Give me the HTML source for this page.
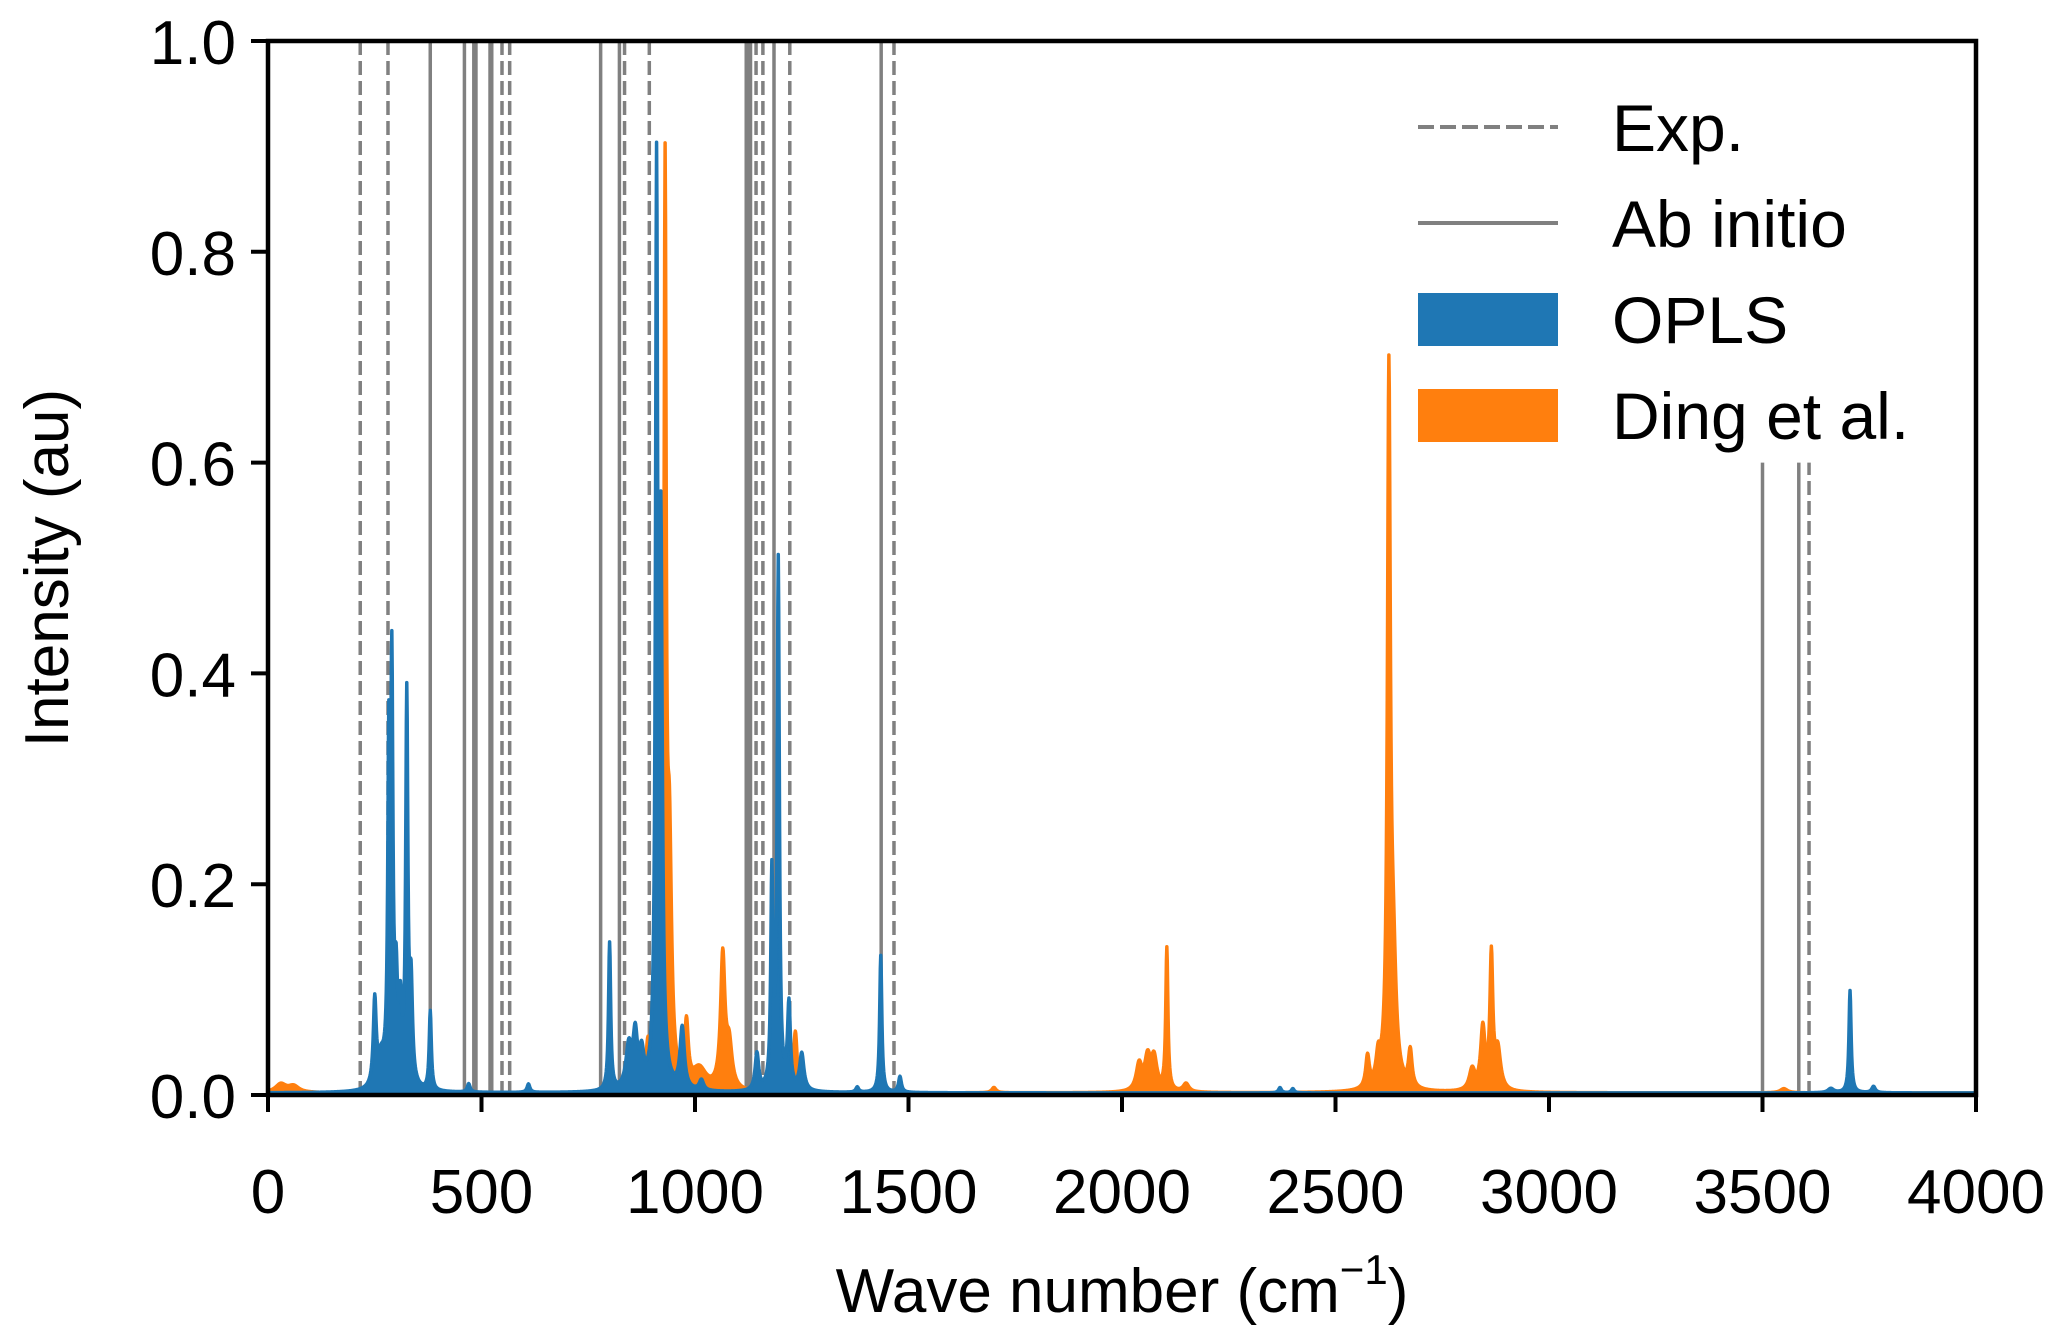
<!DOCTYPE html>
<html><head><meta charset="utf-8"><style>
html,body{margin:0;padding:0;background:#fff;}
svg{display:block;font-family:"Liberation Sans",Arial,sans-serif;}
</style></head><body>
<svg id="chart" width="2067" height="1340" viewBox="0 0 2067 1340" xmlns="http://www.w3.org/2000/svg">
<defs><clipPath id="plotclip"><rect x="268" y="41" width="1708" height="1054"/></clipPath></defs>
<g id="vlines" clip-path="url(#plotclip)"></g>
<g id="spectra" clip-path="url(#plotclip)"></g>
<g id="axes"></g>
<g id="legend">
  <line x1="1418" y1="127" x2="1558" y2="127" stroke="#808080" stroke-width="4" stroke-dasharray="16,6"/>
  <text x="1612" y="151" font-size="66">Exp.</text>
  <line x1="1418" y1="223" x2="1558" y2="223" stroke="#808080" stroke-width="4"/>
  <text x="1612" y="247" font-size="66">Ab initio</text>
  <rect x="1418" y="293" width="140" height="53" fill="#1f77b4"/>
  <text x="1612" y="343" font-size="66">OPLS</text>
  <rect x="1418" y="389" width="140" height="53" fill="#ff7f0e"/>
  <text x="1612" y="439" font-size="66">Ding et al.</text>
</g>
</svg>
<script>
const expLines = [216, 281, 548, 566, 835, 893, 1143, 1159, 1222, 1466];
const abLines = [380, 460, 482, 487, 520, 524, 779, 823, 1120, 1125, 1130, 1185, 1436];
const expLinesShort = [3609];
const abLinesShort = [3500, 3585];
const shortTop = 0.6;
const xTicks = [0, 500, 1000, 1500, 2000, 2500, 3000, 3500, 4000];
const yTicks = [0, 0.2, 0.4, 0.6, 0.8, 1.0];
const yTickLabels = ["0.0", "0.2", "0.4", "0.6", "0.8", "1.0"];
// peaks: centre, height, half-width
const oplsCenters = [250, 265, 283, 290, 300, 310, 325, 335, 380, 470, 610, 800, 845, 860, 875, 910, 920, 970, 1015, 1145, 1180, 1195, 1220, 1250, 1380, 1435, 1480, 2370, 2400, 3660, 3705, 3760];
const oplsHeights = [0.08, 0.025, 0.3, 0.37, 0.085, 0.065, 0.365, 0.09, 0.075, 0.008, 0.008, 0.14, 0.04, 0.048, 0.03, 0.83, 0.5, 0.058, 0.01, 0.035, 0.2, 0.5, 0.08, 0.035, 0.005, 0.13, 0.015, 0.005, 0.004, 0.004, 0.097, 0.006];
const oplsWidths = [4, 10, 3, 3, 4, 4, 3, 4, 3, 4, 4, 3, 8, 6, 6, 3, 4, 6, 6, 5, 3, 3, 4, 6, 4, 3, 4, 4, 4, 8, 3, 5];
const dingCenters = [30, 60, 340, 890, 930, 940, 980, 1010, 1065, 1080, 1235, 1700, 2040, 2060, 2075, 2105, 2150, 2575, 2600, 2625, 2635, 2675, 2820, 2845, 2865, 2880, 3550];
const dingHeights = [0.008, 0.006, 0.01, 0.045, 0.84, 0.22, 0.058, 0.02, 0.125, 0.04, 0.058, 0.005, 0.025, 0.03, 0.03, 0.135, 0.008, 0.03, 0.025, 0.655, 0.11, 0.035, 0.02, 0.058, 0.125, 0.038, 0.004];
const dingWidths = [15, 15, 15, 6, 3, 6, 5, 20, 6, 8, 5, 6, 8, 8, 8, 3, 8, 5, 6, 4, 8, 5, 8, 6, 4, 8, 10];
const baseline = 0.002;

const X0=268, X1=1976, Y0=1095, Y1=41;
const xs = v => X0 + (v-0)/(4000-0)*(X1-X0);
const ys = v => Y0 - (v-0)/(1-0)*(Y0-Y1);
const NS="http://www.w3.org/2000/svg";
function mk(tag, attrs, parent){const e=document.createElementNS(NS,tag);for(const k in attrs)e.setAttribute(k,attrs[k]);parent.appendChild(e);return e;}

const vl=document.getElementById('vlines');
function vline(v, top, dashed){
  const l=mk('line',{x1:xs(v),x2:xs(v),y1:ys(0),y2:ys(top),stroke:'#808080','stroke-width':3.5},vl);
  if(dashed) l.setAttribute('stroke-dasharray','14,6');
  
  
}
expLines.forEach(v=>vline(v,1,true));
abLines.forEach(v=>vline(v,1,false));
expLinesShort.forEach(v=>vline(v,shortTop,true));
abLinesShort.forEach(v=>vline(v,shortTop,false));

function spectrum(c,h,w){
  const pts=[];
  for(let x=0;x<=4000;x+=1){
    let y=baseline;
    for(let i=0;i<c.length;i++){const d=(x-c[i])/w[i];y+=h[i]/(1+d*d);}
    pts.push([x,y]);
  }
  return pts;
}
const sp=document.getElementById('spectra');
function drawArea(c,h,w,color,name){
  const pts=spectrum(c,h,w);
  let d='M'+xs(0)+','+ys(0);
  pts.forEach(p=>{d+='L'+xs(p[0]).toFixed(2)+','+ys(p[1]).toFixed(2);});
  d+='L'+xs(4000)+','+ys(0)+'Z';
  const p=mk('path',{d:d,fill:color,stroke:color,'stroke-width':3.5,'stroke-linejoin':'round'},sp);
  
  
}
drawArea(dingCenters,dingHeights,dingWidths,'#ff7f0e','ding-spectrum');
drawArea(oplsCenters,oplsHeights,oplsWidths,'#1f77b4','opls-spectrum');

const ax=document.getElementById('axes');
const frame=mk('rect',{x:X0,y:Y1,width:X1-X0,height:Y0-Y1,fill:'none',stroke:'#000','stroke-width':4.5},ax);


xTicks.forEach(v=>{
  const t=mk('line',{x1:xs(v),x2:xs(v),y1:Y0,y2:Y0+17,stroke:'#000','stroke-width':4},ax);
  
  
  const tx=mk('text',{x:xs(v),y:1213,'font-size':62,'text-anchor':'middle'},ax);
  tx.textContent=String(v);
  
  
});
yTicks.forEach((v,i)=>{
  const t=mk('line',{x1:X0-17,x2:X0,y1:ys(v),y2:ys(v),stroke:'#000','stroke-width':4},ax);
  
  
  const tx=mk('text',{x:236,y:ys(v)+23,'font-size':62,'text-anchor':'end'},ax);
  tx.textContent=yTickLabels[i];
  
  
});
const xt=mk('text',{x:1122,y:1312,'font-size':62,'text-anchor':'middle'},ax);


xt.innerHTML='Wave number (cm<tspan font-size="42" dy="-28">−1</tspan><tspan dy="28">)</tspan>';
const yt=mk('text',{x:0,y:0,'font-size':62,'text-anchor':'middle',transform:'translate(68,568) rotate(-90)'},ax);


yt.textContent='Intensity (au)';
</script>
</body></html>
